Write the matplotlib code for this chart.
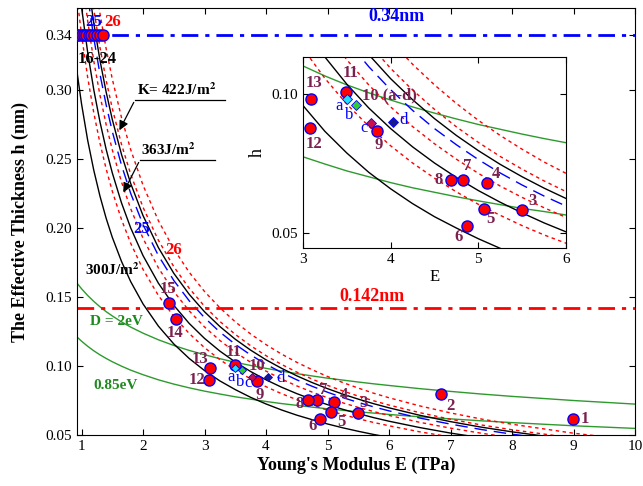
import numpy as np
import matplotlib
matplotlib.use("Agg")
import matplotlib.pyplot as plt
from matplotlib.ticker import FixedLocator, FixedFormatter

plt.rcParams['font.family'] = ['Liberation Serif', 'DejaVu Serif']
plt.rcParams['mathtext.fontset'] = 'stix'

# ---- model curves, h (nm) read at these E (TPa) ----
E_grid = [0.92, 1.0, 1.1, 1.2, 1.3, 1.4, 1.5, 1.65, 1.8, 2.0, 2.25, 2.5, 2.75, 3.0, 3.25, 3.5,
          3.75, 4.0, 4.25, 4.5, 4.75, 5.0, 5.25, 5.5, 5.75, 6.0, 6.5, 7.0, 7.5, 8.0, 9.0, 10.0]
h_K300 = [0.3152, 0.2900, 0.2636, 0.2417, 0.2231, 0.2071, 0.1933, 0.1758, 0.1611, 0.1450, 0.1289,
          0.1160, 0.1055, 0.0967, 0.0892, 0.0829, 0.0773, 0.0725, 0.0682, 0.0644, 0.0611, 0.0580,
          0.0552, 0.0527, 0.0504, 0.0483, 0.0446, 0.0414, 0.0387, 0.0363, 0.0322, 0.0290]
h_K363 = [0.3913, 0.3600, 0.3273, 0.3000, 0.2769, 0.2571, 0.2400, 0.2182, 0.2000, 0.1800, 0.1600,
          0.1440, 0.1309, 0.1200, 0.1108, 0.1029, 0.0960, 0.0900, 0.0847, 0.0800, 0.0758, 0.0720,
          0.0686, 0.0655, 0.0626, 0.0600, 0.0554, 0.0514, 0.0480, 0.0450, 0.0400, 0.0360]
h_K422 = [0.4544, 0.4180, 0.3800, 0.3483, 0.3215, 0.2986, 0.2787, 0.2533, 0.2322, 0.2090, 0.1858,
          0.1672, 0.1520, 0.1393, 0.1286, 0.1194, 0.1115, 0.1045, 0.0984, 0.0929, 0.0880, 0.0836,
          0.0796, 0.0760, 0.0727, 0.0697, 0.0643, 0.0597, 0.0557, 0.0523, 0.0464, 0.0418]
h_ref25 = [0.4402, 0.4050, 0.3682, 0.3375, 0.3115, 0.2893, 0.2700, 0.2455, 0.2250, 0.2025, 0.1800,
           0.1620, 0.1473, 0.1350, 0.1246, 0.1157, 0.1080, 0.1013, 0.0953, 0.0900, 0.0853, 0.0810,
           0.0771, 0.0736, 0.0704, 0.0675, 0.0623, 0.0579, 0.0540, 0.0506, 0.0450, 0.0405]
h_ref26_a = [0.3696, 0.3400, 0.3091, 0.2833, 0.2615, 0.2429, 0.2267, 0.2061, 0.1889, 0.1700, 0.1511,
             0.1360, 0.1236, 0.1133, 0.1046, 0.0971, 0.0907, 0.0850, 0.0800, 0.0756, 0.0716, 0.0680,
             0.0648, 0.0618, 0.0591, 0.0567, 0.0523, 0.0486, 0.0453, 0.0425, 0.0378, 0.0340]
h_ref26_b = [0.4185, 0.3850, 0.3500, 0.3208, 0.2962, 0.2750, 0.2567, 0.2333, 0.2139, 0.1925, 0.1711,
             0.1540, 0.1400, 0.1283, 0.1185, 0.1100, 0.1027, 0.0963, 0.0906, 0.0856, 0.0811, 0.0770,
             0.0733, 0.0700, 0.0670, 0.0642, 0.0592, 0.0550, 0.0513, 0.0481, 0.0428, 0.0385]
h_ref26_c = [0.4674, 0.4300, 0.3909, 0.3583, 0.3308, 0.3071, 0.2867, 0.2606, 0.2389, 0.2150, 0.1911,
             0.1720, 0.1564, 0.1433, 0.1323, 0.1229, 0.1147, 0.1075, 0.1012, 0.0956, 0.0905, 0.0860,
             0.0819, 0.0782, 0.0748, 0.0717, 0.0662, 0.0614, 0.0573, 0.0538, 0.0478, 0.0430]
h_ref26_d = [0.5022, 0.4620, 0.4200, 0.3850, 0.3554, 0.3300, 0.3080, 0.2800, 0.2567, 0.2310, 0.2053,
             0.1848, 0.1680, 0.1540, 0.1422, 0.1320, 0.1232, 0.1155, 0.1087, 0.1027, 0.0973, 0.0924,
             0.0880, 0.0840, 0.0803, 0.0770, 0.0711, 0.0660, 0.0616, 0.0578, 0.0513, 0.0462]
h_D2 = [0.1604, 0.1560, 0.1511, 0.1468, 0.1429, 0.1394, 0.1363, 0.1320, 0.1282, 0.1238, 0.1190,
        0.1149, 0.1113, 0.1082, 0.1053, 0.1027, 0.1004, 0.0983, 0.0963, 0.0945, 0.0928, 0.0912,
        0.0898, 0.0884, 0.0871, 0.0859, 0.0836, 0.0816, 0.0797, 0.0780, 0.0750, 0.0724]
h_D085 = [0.1213, 0.1180, 0.1143, 0.1110, 0.1081, 0.1055, 0.1031, 0.0999, 0.0970, 0.0937, 0.0900,
          0.0869, 0.0842, 0.0818, 0.0797, 0.0777, 0.0760, 0.0743, 0.0728, 0.0715, 0.0702, 0.0690,
          0.0679, 0.0668, 0.0659, 0.0649, 0.0632, 0.0617, 0.0603, 0.0590, 0.0567, 0.0548]

# ---- reported values ----
pt_labels = ['1', '2', '3', '4', '5', '6', '7', '8', '9', '11', '12', '13', '14', '15']
pt_E = [8.99, 6.84, 5.50, 5.10, 5.06, 4.87, 4.83, 4.69, 3.85, 3.49, 3.08, 3.09, 2.54, 2.43]
pt_h = [0.0616, 0.0797, 0.0663, 0.0742, 0.0665, 0.0617, 0.0752, 0.0752, 0.0893, 0.1006,
        0.0902, 0.0985, 0.134, 0.146]
top_E = [0.93, 0.96, 1.0, 1.04, 1.08, 1.12, 1.16, 1.2, 1.25, 1.3, 1.35]
top_h = [0.34] * len(top_E)
ad_labels = ['a', 'b', 'c', 'd']
ad_E = [3.50, 3.61, 3.78, 4.03]
ad_h = [0.0985, 0.0968, 0.0917, 0.0920]
ad_colors = ['#22e0ff', '#33cc33', '#cc1144', '#1a1a8c']

# label positions (main axes)
main_lab_E = [9.19, 7.00, 5.59, 5.27, 5.23, 4.75, 4.93, 4.55, 3.90, 3.47, 2.87, 2.93, 2.52, 2.40]
main_lab_h = [0.0616, 0.071, 0.0734, 0.079, 0.0596, 0.0565, 0.0826, 0.0725, 0.079, 0.1104,
              0.0899, 0.105, 0.124, 0.156]
main_ad_E = [3.43, 3.58, 3.71, 4.23]
main_ad_h = [0.0923, 0.0886, 0.0875, 0.0911]
# label positions (inset)
ins_lab_E = [None, None, 5.62, 5.20, 5.14, 4.78, 4.87, 4.55, 3.86, 3.54, 3.13, 3.13, None, None]
ins_lab_h = [None, None, 0.0690, 0.0767, 0.0636, 0.0584, 0.0791, 0.0752, 0.0852, 0.1062,
             0.0854, 0.1033, None, None]
ins_ad_E = [3.41, 3.53, 3.70, 4.15]
ins_ad_h = [0.0965, 0.0939, 0.0903, 0.0925]

lab_col = '#7b2150'


def draw_curves(a):
    a.plot(E_grid, h_D2, color='#2e9a2e', lw=1.0)
    a.plot(E_grid, h_D085, color='#2e9a2e', lw=1.0)
    for hh in (h_ref26_a, h_ref26_b, h_ref26_c, h_ref26_d):
        a.plot(E_grid, hh, color='red', lw=1.0, ls=(0, (2.5, 2.5)))
    a.plot(E_grid, h_ref25, color='blue', lw=1.0, ls=(0, (9, 5)))
    for hh in (h_K300, h_K363, h_K422):
        a.plot(E_grid, hh, color='black', lw=1.0)


def style_ticks(a):
    a.tick_params(direction='in', top=True, right=True, labelsize=11, length=4)
    for s in a.spines.values():
        s.set_linewidth(0.8)


fig = plt.figure(figsize=(6.43, 4.86), dpi=100)
ax = fig.add_axes([0.1198, 0.1049, 0.8678, 0.8786])

draw_curves(ax)
ax.axhline(0.34, color='blue', lw=2, ls=(0, (6, 2.5, 1.5, 2.5)))
ax.axhline(0.142, color='red', lw=2, ls=(0, (6, 2.5, 1.5, 2.5)))

ax.plot(top_E, top_h, 'o', color='red', mec='blue', ms=8, mew=1, zorder=5)
ax.plot(pt_E, pt_h, 'o', color='red', mec='blue', ms=8, mew=1, zorder=5)
for E, h, c in zip(ad_E, ad_h, ad_colors):
    ax.plot(E, h, 'D', color=c, mec='blue', ms=4, mew=0.6, zorder=6)

for t, x, y in zip(pt_labels, main_lab_E, main_lab_h):
    ax.text(x, y, t, color=lab_col, fontsize=12, fontweight='bold', ha='center', va='center')
ax.text(3.85, 0.100, '10', color=lab_col, fontsize=12, fontweight='bold', ha='center', va='center')
for t, x, y in zip(ad_labels, main_ad_E, main_ad_h):
    ax.text(x, y, t, color='blue', fontsize=12, ha='center', va='center')

ax.text(1.25, 0.3225, '16-24', fontsize=12, fontweight='bold', ha='center', va='center')
ax.text(1.19, 0.349, '25', color='blue', fontsize=12, fontweight='bold', ha='center', va='center')
ax.text(1.51, 0.349, '26', color='red', fontsize=12, fontweight='bold', ha='center', va='center')
ax.text(1.98, 0.199, '25', color='blue', fontsize=12, fontweight='bold', ha='center', va='center')
ax.text(2.49, 0.184, '26', color='red', fontsize=12, fontweight='bold', ha='center', va='center')

ax.text(6.12, 0.353, '0.34nm', color='blue', fontsize=13, fontweight='bold', ha='center', va='center')
ax.text(5.72, 0.1507, '0.142nm', color='red', fontsize=13, fontweight='bold', ha='center', va='center')

# K annotations with underline + arrow
ax.text(1.90, 0.2945, r'K= 422J/m$^\mathbf{2}$', fontsize=11, fontweight='bold', ha='left', va='bottom')
ax.plot([1.87, 3.34], [0.2928, 0.2928], color='black', lw=0.9)
ax.annotate('', xy=(1.595, 0.269), xytext=(1.87, 0.2928),
            arrowprops=dict(arrowstyle='-|>', color='black', lw=0.9, mutation_scale=14))
ax.text(1.97, 0.251, r'363J/m$^\mathbf{2}$', fontsize=11, fontweight='bold', ha='left', va='bottom')
ax.plot([1.95, 3.17], [0.2493, 0.2493], color='black', lw=0.9)
ax.annotate('', xy=(1.66, 0.224), xytext=(1.95, 0.2493),
            arrowprops=dict(arrowstyle='-|>', color='black', lw=0.9, mutation_scale=14))
ax.text(1.06, 0.1696, r'300J/m$^\mathbf{2}$', fontsize=11, fontweight='bold', ha='left', va='center')
ax.text(1.14, 0.1326, 'D = 2eV', color='#1f8a1f', fontsize=11, fontweight='bold', ha='left', va='center')
ax.text(1.19, 0.0862, '0.85eV', color='#1f8a1f', fontsize=11, fontweight='bold', ha='left', va='center')

ax.set_xlim(0.927, 10)
ax.set_ylim(0.05, 0.3594)
ax.set_xticks(range(1, 11))
ax.set_yticks([0.05, 0.10, 0.15, 0.20, 0.25, 0.30, 0.34])
ax.set_yticklabels(['0.05', '0.10', '0.15', '0.20', '0.25', '0.30', '0.34'])
style_ticks(ax)
ax.set_xlabel("Young's Modulus E (TPa)", fontsize=13, fontweight='bold', labelpad=3)
ax.set_ylabel('The Effective Thickness h (nm)', fontsize=13, fontweight='bold', labelpad=12)

# ---- inset ----
axi = fig.add_axes([0.4712, 0.4897, 0.4090, 0.3930])
draw_curves(axi)
axi.plot(pt_E, pt_h, 'o', color='red', mec='blue', ms=8, mew=1, zorder=5)
for E, h, c in zip(ad_E, ad_h, ad_colors):
    axi.plot(E, h, 'D', color=c, mec='blue', ms=5, mew=0.6, zorder=6)
for t, x, y in zip(pt_labels, ins_lab_E, ins_lab_h):
    if x is not None:
        axi.text(x, y, t, color=lab_col, fontsize=12, fontweight='bold', ha='center', va='center')
axi.text(3.67, 0.0997, '10 (a-d)', color=lab_col, fontsize=12, fontweight='bold', ha='left', va='center')
for t, x, y in zip(ad_labels, ins_ad_E, ins_ad_h):
    axi.text(x, y, t, color='blue', fontsize=12, ha='center', va='center')
axi.set_xlim(3, 6)
axi.set_ylim(0.0553, 0.1108)
axi.set_xticks([3, 4, 5, 6])
axi.yaxis.set_major_locator(FixedLocator([0.0598, 0.100]))
axi.yaxis.set_major_formatter(FixedFormatter(['0.05', '0.10']))
style_ticks(axi)
axi.set_xlabel('E', fontsize=12, labelpad=2)
axi.set_ylabel('h', fontsize=13, labelpad=4)

fig.savefig('out.png', dpi=100)
